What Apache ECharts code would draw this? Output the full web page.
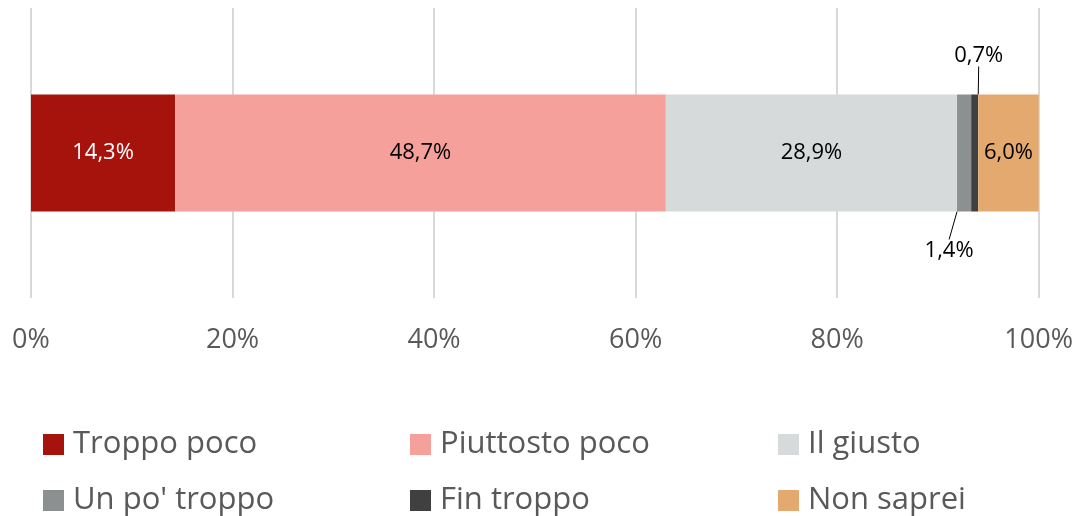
<html>
<head>
<meta charset="UTF-8">
<script src="https://cdn.jsdelivr.net/npm/echarts@6/dist/echarts.min.js"></script>
</head>
<body style="margin:0">
<div id="chart" style="width:1076px;height:516px;"></div>
<script>
var names = ['Troppo poco', 'Piuttosto poco', 'Il giusto', "Un po' troppo", 'Fin troppo', 'Non saprei'];
var values = [14.3, 48.7, 28.9, 1.4, 0.7, 6.0];
var colors = ['#a6130d', '#f6a09b', '#d6dadb', '#8c9090', '#404040', '#e3a96f'];
var labelColors = ['#ffffff', '#000000', '#000000', '#000000', '#000000', '#000000'];
var ticks = [0, 20, 40, 60, 80, 100];

var font = 'Open Sans';
function pct(v) { return v.toFixed(1).replace('.', ',') + '%'; }

var series = names.map(function (n, i) {
    var s = {
        name: n,
        type: 'bar',
        stack: 'tot',
        barWidth: 117,
        data: [values[i]],
        itemStyle: { color: colors[i] },
        label: {
            show: true,
            position: 'inside',
            color: labelColors[i],
            fontFamily: font,
            fontSize: 22,
            formatter: function (p) { return pct(p.value); }
        }
    };
    if (i == 3) {
        s.label.position = 'bottom';
        s.label.distance = 4;
        s.labelLayout = { dx: -15, dy: 24 };
        s.labelLine = { show: true, lineStyle: { color: '#000', width: 1 } };
    }
    if (i == 4) {
        s.label.position = 'top';
        s.label.distance = 4;
        s.labelLayout = { dx: 4, dy: -24 };
        s.labelLine = { show: true, lineStyle: { color: '#000', width: 1 } };
    }
    return s;
});

// legend: 3 columns x 2 rows
var legendX = [38, 405, 773];
var legendY = [424, 480];
var legends = names.map(function (n, i) {
    return {
        data: [n],
        left: legendX[i % 3],
        top: legendY[Math.floor(i / 3)],
        icon: 'rect',
        itemWidth: 21,
        itemHeight: 21,
        itemGap: 0,
        selectedMode: false,
        textStyle: { fontFamily: font, fontSize: 31, color: '#595959', padding: [0, 0, 0, 4] }
    };
});

var myChart = echarts.init(document.getElementById('chart'));
var option = {
    animation: false,
    legend: legends,
    grid: { left: 31, right: 36, top: 8, height: 290 },
    xAxis: {
        type: 'value',
        min: 0,
        max: 100,
        interval: 20,
        axisLine: { show: false },
        axisTick: { show: false },
        splitLine: { lineStyle: { color: '#d9d9d9', width: 2 } },
        axisLabel: {
            margin: 29,
            fontFamily: font,
            fontSize: 27,
            color: '#595959',
            formatter: function (v) { return v + '%'; }
        }
    },
    yAxis: { type: 'category', data: [''], show: false },
    series: series
};
myChart.setOption(option);
</script>
</body>
</html>
